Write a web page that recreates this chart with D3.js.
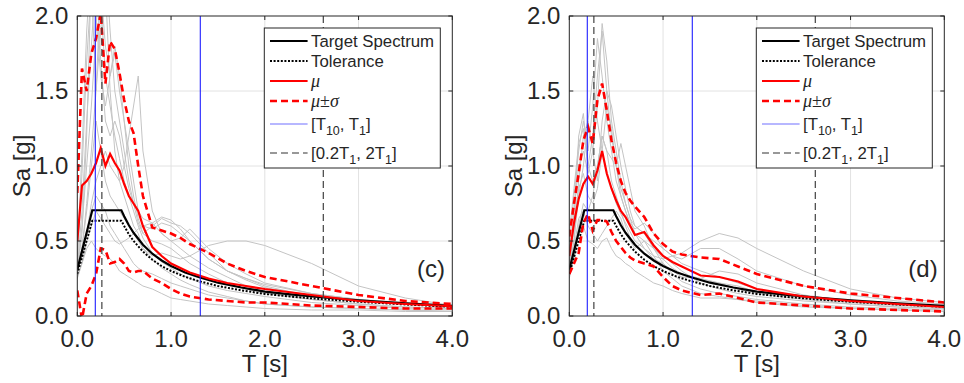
<!DOCTYPE html>
<html>
<head>
<meta charset="utf-8">
<script src="https://cdn.jsdelivr.net/npm/d3@7"></script>
<style>
  body { margin: 0; background: #fff; }
  svg { display: block; font-family: "Liberation Sans", Arial, sans-serif; }
</style>
</head>
<body>
<svg id="chart" width="964" height="383"></svg>
<script>
// periods (s) at which records and statistics were read
const periods = [0, 0.05, 0.1, 0.15, 0.2, 0.25, 0.3, 0.35, 0.4, 0.45, 0.5, 0.55, 0.6, 0.65,
  0.7, 0.8, 0.9, 1.0, 1.1, 1.2, 1.4, 1.6, 1.8, 2.0, 2.5, 3.0, 3.5, 4.0];

// target spectrum and its 90% tolerance
const targetT = [0, 0.16, 0.47, 0.5, 0.55, 0.6, 0.7, 0.8, 0.9, 1.0, 1.15, 1.3, 1.5, 1.75,
  2.0, 2.3, 2.6, 3.0, 3.5, 4.0];
const targetSa = [0.31, 0.705, 0.705, 0.665, 0.605, 0.555, 0.475, 0.415, 0.37, 0.333, 0.29,
  0.258, 0.222, 0.19, 0.163, 0.142, 0.125, 0.105, 0.085, 0.068];
const toleranceSa = [0.28, 0.635, 0.635, 0.6, 0.545, 0.5, 0.43, 0.375, 0.333, 0.3, 0.261,
  0.232, 0.2, 0.171, 0.147, 0.128, 0.113, 0.095, 0.077, 0.061];

// [T10, T1] and [0.2T1, 2T1]
const modeLines = [0.192, 1.312];
const rangeLines = [0.262, 2.624];

// panel (c)
const recordsC = [
  [0.30,0.55,1.20,2.30,2.60,2.10,1.60,1.40,1.20,1.05,0.90,0.80,0.70,0.60,0.52,0.42,0.36,0.32,0.28,0.25,0.20,0.17,0.15,0.13,0.09,0.07,0.05,0.04],
  [0.35,0.95,1.70,2.20,1.50,1.90,2.40,1.90,1.50,1.30,1.10,0.90,0.75,0.62,0.55,0.50,0.48,0.45,0.40,0.35,0.28,0.22,0.18,0.15,0.11,0.08,0.06,0.05],
  [0.28,0.45,0.75,1.10,1.50,2.20,1.80,1.60,1.75,1.50,1.30,1.10,0.90,0.70,0.60,0.58,0.62,0.60,0.55,0.50,0.38,0.30,0.24,0.19,0.13,0.10,0.08,0.06],
  [0.30,0.40,0.55,0.75,0.90,1.00,1.10,1.00,0.95,0.90,1.00,1.20,1.40,1.60,1.10,0.70,0.55,0.50,0.45,0.40,0.32,0.26,0.20,0.16,0.11,0.08,0.06,0.05],
  [0.32,0.70,1.30,1.80,2.30,1.70,1.30,1.20,1.30,1.20,1.00,0.85,0.75,0.70,0.65,0.62,0.66,0.64,0.58,0.50,0.38,0.30,0.25,0.21,0.15,0.11,0.08,0.07],
  [0.25,0.35,0.50,0.60,0.70,0.65,0.60,0.55,0.50,0.48,0.50,0.52,0.55,0.58,0.60,0.62,0.55,0.50,0.52,0.58,0.45,0.35,0.28,0.22,0.15,0.11,0.09,0.07],
  [0.30,0.45,0.70,1.00,1.30,1.10,0.90,0.80,0.75,0.70,0.65,0.60,0.55,0.50,0.45,0.40,0.42,0.40,0.38,0.40,0.47,0.50,0.50,0.47,0.35,0.20,0.12,0.07],
  [0.30,0.40,0.55,0.70,0.80,0.75,0.70,0.60,0.55,0.50,0.45,0.40,0.35,0.32,0.30,0.28,0.25,0.22,0.20,0.18,0.14,0.12,0.10,0.08,0.06,0.05,0.04,0.03],
  [0.30,0.60,1.00,1.40,1.90,2.50,2.20,1.50,1.10,0.90,0.80,0.70,0.60,0.55,0.45,0.38,0.32,0.28,0.24,0.21,0.16,0.13,0.10,0.08,0.06,0.05,0.04,0.03],
  [0.28,0.35,0.45,0.50,0.45,0.42,0.40,0.38,0.35,0.30,0.28,0.26,0.24,0.22,0.20,0.18,0.15,0.12,0.11,0.10,0.08,0.07,0.06,0.05,0.04,0.04,0.03,0.03],
  [0.40,1.10,1.90,2.40,2.00,1.60,1.40,1.60,1.80,1.60,1.30,1.00,0.80,0.65,0.55,0.60,0.65,0.62,0.60,0.55,0.42,0.30,0.25,0.20,0.13,0.10,0.08,0.06]
];
const muC = [0.50,0.87,0.90,0.95,1.02,1.12,1.00,1.08,1.02,0.97,0.88,0.80,0.75,0.70,0.60,0.46,0.40,0.35,0.32,0.29,0.25,0.22,0.20,0.18,0.14,0.10,0.08,0.065];
const muPlusC = [0.82,1.65,1.50,1.75,1.85,2.02,1.55,1.83,1.78,1.62,1.44,1.30,1.22,1.00,0.80,0.59,0.57,0.55,0.52,0.48,0.42,0.35,0.30,0.26,0.20,0.14,0.10,0.08];
const muMinusC = [0.17,-0.02,0.15,0.20,0.28,0.45,0.44,0.35,0.36,0.38,0.35,0.30,0.29,0.30,0.30,0.25,0.22,0.18,0.15,0.13,0.11,0.10,0.09,0.09,0.07,0.06,0.05,0.05];

// panel (d)
const recordsD = [
  [0.30,0.60,1.20,1.35,1.00,1.20,1.60,1.90,1.50,1.20,1.00,0.85,0.75,0.65,0.60,0.55,0.45,0.38,0.32,0.28,0.25,0.22,0.18,0.15,0.11,0.08,0.06,0.05],
  [0.45,0.80,1.10,1.30,1.10,1.40,1.85,1.60,1.30,1.10,0.90,0.80,0.70,0.60,0.55,0.50,0.45,0.40,0.35,0.30,0.22,0.18,0.15,0.13,0.10,0.08,0.06,0.05],
  [0.28,0.50,0.90,1.20,1.30,1.60,1.30,1.10,0.95,0.85,0.75,0.68,0.62,0.56,0.50,0.45,0.40,0.38,0.40,0.42,0.50,0.55,0.52,0.45,0.30,0.18,0.12,0.09],
  [0.35,0.70,1.00,1.10,0.95,1.10,1.40,1.95,1.70,1.30,1.10,0.90,0.75,0.65,0.55,0.45,0.38,0.34,0.30,0.28,0.24,0.22,0.20,0.16,0.12,0.09,0.07,0.06],
  [0.25,0.40,0.60,0.75,0.70,0.80,1.00,1.20,1.10,1.05,1.00,1.15,1.00,0.85,0.70,0.60,0.45,0.35,0.28,0.23,0.18,0.15,0.13,0.11,0.08,0.06,0.05,0.04],
  [0.40,0.65,0.85,0.95,0.80,0.75,0.85,1.10,1.40,1.25,1.00,0.80,0.70,0.62,0.58,0.62,0.55,0.45,0.40,0.38,0.45,0.45,0.38,0.30,0.20,0.14,0.10,0.08],
  [0.30,0.45,0.65,0.70,0.60,0.55,0.50,0.55,0.60,0.65,0.70,0.65,0.55,0.50,0.45,0.50,0.40,0.30,0.25,0.20,0.15,0.13,0.11,0.09,0.06,0.05,0.04,0.03],
  [0.55,0.85,1.15,1.25,1.00,0.90,1.00,1.20,1.10,0.90,0.80,0.70,0.60,0.52,0.48,0.42,0.38,0.35,0.30,0.26,0.25,0.30,0.28,0.22,0.14,0.10,0.08,0.06],
  [0.28,0.38,0.55,0.60,0.50,0.48,0.45,0.50,0.52,0.45,0.40,0.38,0.35,0.33,0.30,0.26,0.22,0.20,0.17,0.15,0.12,0.12,0.11,0.10,0.07,0.05,0.04,0.03],
  [0.32,0.50,0.80,1.00,1.30,1.10,0.90,1.30,1.50,1.40,1.20,1.00,0.85,0.70,0.60,0.55,0.50,0.45,0.40,0.35,0.30,0.26,0.22,0.18,0.13,0.10,0.08,0.06]
];
const muD = [0.40,0.62,0.78,0.88,0.93,0.88,0.97,1.10,0.95,0.85,0.77,0.70,0.66,0.60,0.54,0.56,0.47,0.40,0.36,0.33,0.27,0.26,0.23,0.18,0.13,0.10,0.08,0.06];
const muPlusD = [0.53,0.75,0.95,1.17,1.26,1.15,1.44,1.55,1.37,1.17,1.02,0.90,0.82,0.77,0.73,0.66,0.55,0.48,0.43,0.41,0.39,0.38,0.33,0.28,0.20,0.15,0.12,0.09];
const muMinusD = [0.28,0.35,0.42,0.62,0.68,0.57,0.64,0.64,0.63,0.56,0.50,0.46,0.42,0.39,0.37,0.35,0.33,0.26,0.20,0.17,0.14,0.15,0.12,0.09,0.07,0.05,0.04,0.03];

const xTicks = [0, 1, 2, 3, 4];
const yTicks = [0, 0.5, 1, 1.5, 2];

class SpectrumPanel {
  constructor(_config) {
    this.config = {
      parentElement: _config.parentElement,
      left: _config.left,
      top: _config.top || 16,
      width: _config.width || 375,
      height: _config.height || 300,
      label: _config.label,
      id: _config.id
    };
    this.records = _config.records;
    this.mu = _config.mu;
    this.muPlus = _config.muPlus;
    this.muMinus = _config.muMinus;
    this.initVis();
  }

  initVis() {
    let vis = this;
    let c = vis.config;

    vis.svg = d3.select(c.parentElement);
    vis.chart = vis.svg.append("g")
      .attr("transform", `translate(${c.left}, ${c.top})`);

    vis.xScale = d3.scaleLinear().domain([0, 4]).range([0, c.width]);
    vis.yScale = d3.scaleLinear().domain([0, 2]).range([c.height, 0]);

    vis.chart.append("clipPath")
      .attr("id", "clip-" + c.id)
      .append("rect")
      .attr("width", c.width)
      .attr("height", c.height);

    vis.line = d3.line()
      .x(d => vis.xScale(d[0]))
      .y(d => vis.yScale(d[1]));

    vis.render();
  }

  render() {
    let vis = this;
    let c = vis.config;
    const axisColor = "#262626";

    // grid
    vis.chart.append("g")
      .selectAll("line.xgrid")
      .data(xTicks.slice(1, -1))
      .join("line")
      .attr("x1", d => vis.xScale(d)).attr("x2", d => vis.xScale(d))
      .attr("y1", 0).attr("y2", c.height)
      .attr("stroke", "#e2e2e2");
    vis.chart.append("g")
      .selectAll("line.ygrid")
      .data(yTicks.slice(1, -1))
      .join("line")
      .attr("y1", d => vis.yScale(d)).attr("y2", d => vis.yScale(d))
      .attr("x1", 0).attr("x2", c.width)
      .attr("stroke", "#e2e2e2");

    let plot = vis.chart.append("g").attr("clip-path", `url(#clip-${c.id})`);

    // ground motion records
    plot.selectAll(".record")
      .data(vis.records)
      .join("path")
      .attr("class", "record")
      .attr("d", r => vis.line(r.map((v, i) => [periods[i], v])))
      .attr("fill", "none")
      .attr("stroke", "#c4c4c4")
      .attr("stroke-width", 1);

    plot.append("path")
      .attr("d", vis.line(targetT.map((t, i) => [t, targetSa[i]])))
      .attr("fill", "none").attr("stroke", "#000").attr("stroke-width", 2.2);
    plot.append("path")
      .attr("d", vis.line(targetT.map((t, i) => [t, toleranceSa[i]])))
      .attr("fill", "none").attr("stroke", "#000").attr("stroke-width", 2)
      .attr("stroke-dasharray", "2,1.6");

    plot.append("path")
      .attr("d", vis.line(vis.mu.map((v, i) => [periods[i], v])))
      .attr("fill", "none").attr("stroke", "#ff0000").attr("stroke-width", 2.2);
    [vis.muPlus, vis.muMinus].forEach(s => {
      plot.append("path")
        .attr("d", vis.line(s.map((v, i) => [periods[i], v])))
        .attr("fill", "none").attr("stroke", "#ff0000").attr("stroke-width", 2.6)
        .attr("stroke-dasharray", "7,4");
    });

    plot.selectAll(".mode-line")
      .data(modeLines)
      .join("line")
      .attr("x1", d => vis.xScale(d)).attr("x2", d => vis.xScale(d))
      .attr("y1", 0).attr("y2", c.height)
      .attr("stroke", "#1f1fff").attr("stroke-width", 1.1);
    plot.selectAll(".range-line")
      .data(rangeLines)
      .join("line")
      .attr("x1", d => vis.xScale(d)).attr("x2", d => vis.xScale(d))
      .attr("y1", 0).attr("y2", c.height)
      .attr("stroke", "#404040").attr("stroke-width", 1.2)
      .attr("stroke-dasharray", "7,4");

    // axes box with inward ticks
    vis.chart.append("rect")
      .attr("width", c.width).attr("height", c.height)
      .attr("fill", "none").attr("stroke", axisColor).attr("stroke-width", 1);
    let tl = 4;
    xTicks.forEach(t => {
      let x = vis.xScale(t);
      vis.chart.append("line").attr("x1", x).attr("x2", x).attr("y1", c.height).attr("y2", c.height - tl).attr("stroke", axisColor);
      vis.chart.append("line").attr("x1", x).attr("x2", x).attr("y1", 0).attr("y2", tl).attr("stroke", axisColor);
    });
    yTicks.forEach(t => {
      let y = vis.yScale(t);
      vis.chart.append("line").attr("x1", 0).attr("x2", tl).attr("y1", y).attr("y2", y).attr("stroke", axisColor);
      vis.chart.append("line").attr("x1", c.width).attr("x2", c.width - tl).attr("y1", y).attr("y2", y).attr("stroke", axisColor);
    });

    vis.chart.selectAll(".xlabel")
      .data(xTicks)
      .join("text")
      .attr("x", d => vis.xScale(d))
      .attr("y", c.height + 30.5)
      .attr("text-anchor", "middle")
      .attr("font-size", "24px")
      .attr("fill", axisColor)
      .text(d3.format(".1f"));
    vis.chart.selectAll(".ylabel")
      .data(yTicks)
      .join("text")
      .attr("x", -9)
      .attr("y", d => vis.yScale(d))
      .attr("dy", "0.35em")
      .attr("text-anchor", "end")
      .attr("font-size", "24px")
      .attr("fill", axisColor)
      .text(d3.format(".1f"));

    vis.chart.append("text")
      .attr("x", c.width / 2)
      .attr("y", c.height + 55.5)
      .attr("text-anchor", "middle")
      .attr("font-size", "24px")
      .attr("fill", axisColor)
      .text("T [s]");
    vis.chart.append("text")
      .attr("transform", `translate(-47, ${c.height / 2}) rotate(-90)`)
      .attr("text-anchor", "middle")
      .attr("font-size", "24px")
      .attr("fill", axisColor)
      .text("Sa [g]");

    vis.chart.append("text")
      .attr("x", c.width - 21.3)
      .attr("y", 261)
      .attr("text-anchor", "middle")
      .attr("font-size", "24px")
      .attr("fill", axisColor)
      .text(c.label);

    vis.drawLegend();
  }

  drawLegend() {
    let vis = this;
    let c = vis.config;
    let bw = 176, bh = 140;
    let legend = vis.chart.append("g")
      .attr("transform", `translate(${c.width - 12 - bw}, 12)`);
    legend.append("rect")
      .attr("width", bw).attr("height", bh)
      .attr("fill", "#fff").attr("stroke", "#262626").attr("stroke-width", 1);

    let rows = [13, 33, 53, 73, 96, 125];
    let styles = [
      { stroke: "#000", width: 2.2, dash: null },
      { stroke: "#000", width: 2, dash: "2,1.6" },
      { stroke: "#ff0000", width: 2.2, dash: null },
      { stroke: "#ff0000", width: 2.6, dash: "7,4" },
      { stroke: "#7070ff", width: 1.2, dash: null },
      { stroke: "#333", width: 1.2, dash: "7,4" }
    ];
    styles.forEach((s, i) => {
      legend.append("line")
        .attr("x1", 5.7).attr("x2", 43.3)
        .attr("y1", rows[i]).attr("y2", rows[i])
        .attr("stroke", s.stroke).attr("stroke-width", s.width)
        .attr("stroke-dasharray", s.dash);
    });

    let tx = 46.7;
    let txt = (i) => legend.append("text")
      .attr("x", tx).attr("y", rows[i] + 6)
      .attr("font-size", "16.8px").attr("fill", "#262626");

    txt(0).text("Target Spectrum");
    txt(1).text("Tolerance");
    txt(2).append("tspan")
      .attr("font-family", "'Liberation Serif', serif").attr("font-style", "italic")
      .attr("font-size", "18px")
      .text("μ");
    let t3 = txt(3).attr("font-family", "'Liberation Serif', serif").attr("font-size", "18px");
    t3.append("tspan").attr("font-style", "italic").text("μ");
    t3.append("tspan").text("±");
    t3.append("tspan").attr("font-style", "italic").text("σ");

    let t4 = txt(4);
    t4.append("tspan").text("[T");
    t4.append("tspan").attr("font-size", "12.5px").attr("dy", 5).text("10");
    t4.append("tspan").attr("dy", -5).text(", T");
    t4.append("tspan").attr("font-size", "12.5px").attr("dy", 5).text("1");
    t4.append("tspan").attr("dy", -5).text("]");

    let t5 = txt(5);
    t5.append("tspan").text("[0.2T");
    t5.append("tspan").attr("font-size", "12.5px").attr("dy", 5).text("1");
    t5.append("tspan").attr("dy", -5).text(", 2T");
    t5.append("tspan").attr("font-size", "12.5px").attr("dy", 5).text("1");
    t5.append("tspan").attr("dy", -5).text("]");
  }
}

new SpectrumPanel({
  parentElement: "#chart", id: "c", left: 77.3, label: "(c)",
  records: recordsC, mu: muC, muPlus: muPlusC, muMinus: muMinusC
});
new SpectrumPanel({
  parentElement: "#chart", id: "d", left: 569.3, label: "(d)",
  records: recordsD, mu: muD, muPlus: muPlusD, muMinus: muMinusD
});
</script>
</body>
</html>
